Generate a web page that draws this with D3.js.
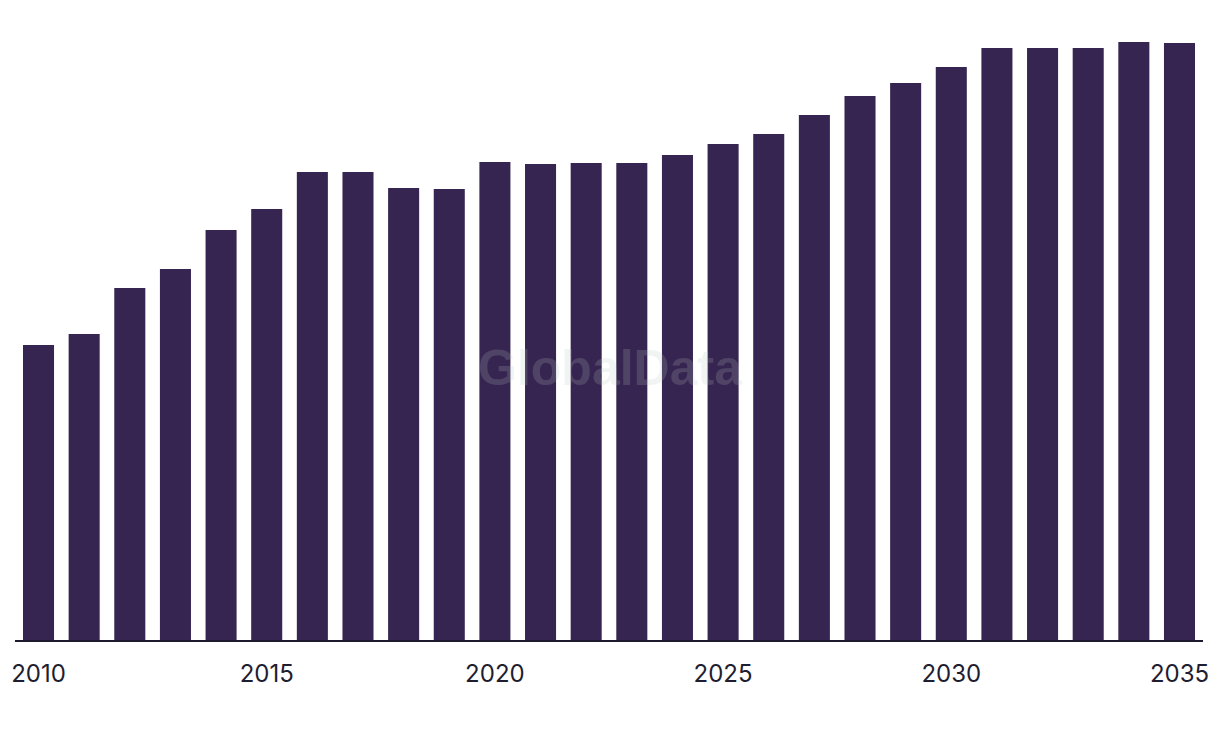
<!DOCTYPE html>
<html><head><meta charset="utf-8">
<script src="https://cdn.jsdelivr.net/npm/d3@7"></script>
<style>html,body{margin:0;padding:0;background:#fff;}svg{display:block;}</style>
</head><body>
<script>
const years = d3.range(2010, 2036).map(String);
const values = [296, 307, 353, 372, 411, 432, 469, 469, 453, 452, 479, 477, 478, 478, 486, 497, 507, 526, 545, 558, 574, 593, 593, 593, 599, 598];
const tickLabels = ["2010", "2015", "2020", "2025", "2030", "2035"];

const W = 1220, H = 738;
const svg = d3.select("body").append("svg").attr("width", W).attr("height", H);

const x = d3.scaleBand().domain(years).range([15.7, 1202.3]).paddingInner(0.32).paddingOuter(0.16);
const y = d3.scaleLinear().domain([0, 599]).range([641, 42]);

svg.append("g").selectAll("rect").data(years).join("rect")
  .attr("x", d => x(d))
  .attr("width", x.bandwidth())
  .attr("y", (d, i) => y(values[i]))
  .attr("height", (d, i) => y(0) - y(values[i]))
  .attr("fill", "#362451");

const axis = svg.append("g").attr("transform", "translate(0,641)")
  .call(d3.axisBottom(x).tickValues(tickLabels).tickSize(0).tickPadding(24));
axis.select(".domain").attr("d", "M15,0H1203").attr("stroke", "#1c1a2c").attr("stroke-width", 2);
axis.selectAll("text").attr("font-family", "Inter, 'Liberation Sans', sans-serif").attr("font-size", 24).attr("font-weight", 400).attr("fill", "#1f1d30");

svg.append("text").attr("x", 610).attr("y", 385).attr("text-anchor", "middle")
  .attr("font-family", "'Liberation Sans', Arial, sans-serif").attr("font-weight", "bold").attr("font-size", 50)
  .attr("fill", "#b4c8be").attr("fill-opacity", 0.2).text("GlobalData");
</script>
</body></html>
